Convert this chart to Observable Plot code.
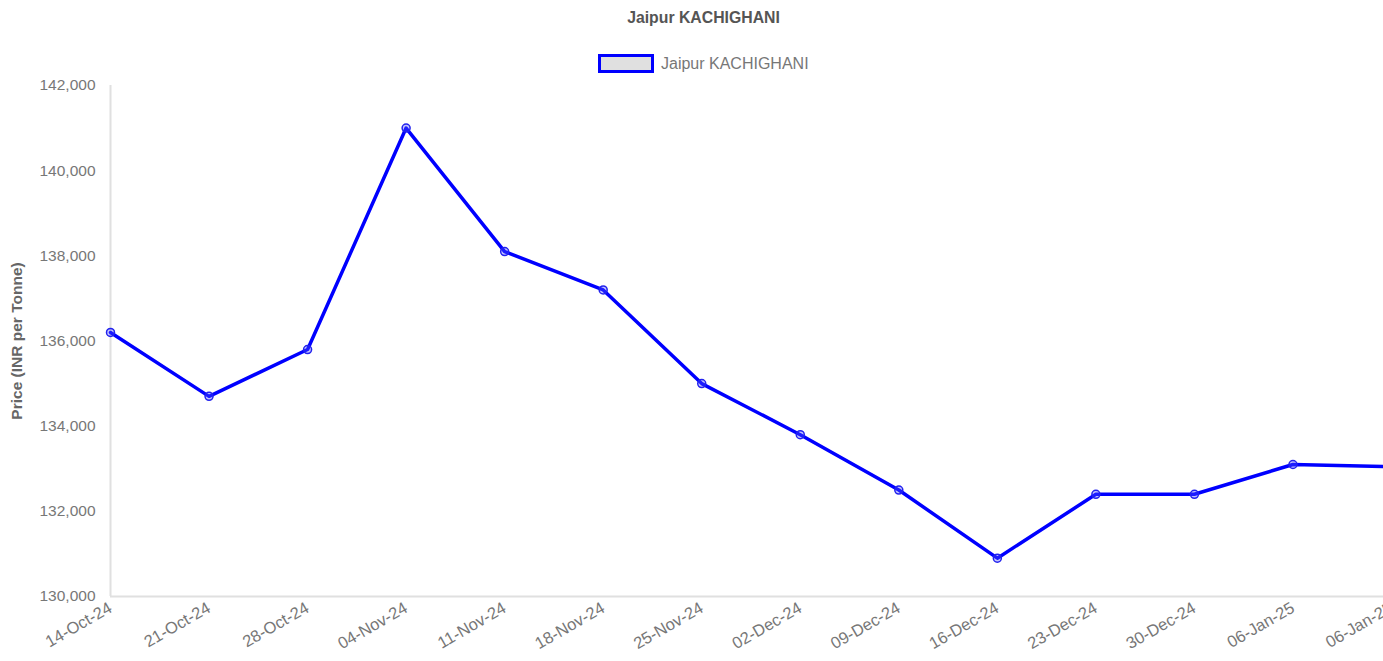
<!DOCTYPE html>
<html>
<head>
<meta charset="utf-8">
<script src="https://cdn.jsdelivr.net/npm/d3@7"></script>
<script src="https://cdn.jsdelivr.net/npm/@observablehq/plot@0.6"></script>
<style>
  html, body { margin: 0; padding: 0; background: #fff; overflow: hidden; width: 1383px; height: 661px; }
  body { font-family: "Liberation Sans", Arial, sans-serif; position: relative; }
  #title { position: absolute; left: 24px; width: 1359px; top: 9px; text-align: center; font-size: 15.8px; font-weight: bold; color: #555; }
  #legend { position: absolute; left: 598px; top: 54px; display: flex; align-items: center; font-size: 16px; color: #777; }
  #legend .sw { width: 50px; height: 13px; background: #e0e0e0; border: 3px solid #0000ff; margin-right: 7px; }
  #chart { position: absolute; left: 0; top: 75px; }
</style>
</head>
<body>
<div id="title">Jaipur KACHIGHANI</div>
<div id="legend"><div class="sw"></div><span>Jaipur KACHIGHANI</span></div>
<div id="chart"></div>
<script>
const seriesName = "Jaipur KACHIGHANI";
const dateLabels = ["14-Oct-24","21-Oct-24","28-Oct-24","04-Nov-24","11-Nov-24","18-Nov-24","25-Nov-24","02-Dec-24","09-Dec-24","16-Dec-24","23-Dec-24","30-Dec-24","06-Jan-25","06-Jan-25"];
const prices = [136200,134700,135800,141000,138100,137200,135000,133800,132500,130900,132400,132400,133100,133050];
const yTicks = [130000,132000,134000,136000,138000,140000,142000];

const data = prices.map((p, i) => ({i, label: dateLabels[i], price: p}));
const fmt = d3.format(",");

const chart = Plot.plot({
  width: 1383,
  height: 586,
  marginTop: 10,
  marginBottom: 65,
  marginLeft: 110,
  marginRight: 0,
  style: {fontFamily: "'Liberation Sans', Arial, sans-serif", fontSize: "15.5px", color: "#777", background: "transparent", overflow: "visible"},
  x: {type: "point", domain: d3.range(dateLabels.length), range: [110, 1391], padding: 0, round: false, label: null, tickFormat: i => dateLabels[i], tickRotate: -30, tickSize: 0, tickPadding: 10},
  y: {domain: [130000, 142000], ticks: yTicks, tickFormat: fmt, tickSize: 0, tickPadding: 15, label: "Price (INR per Tonne)", labelAnchor: "center", labelArrow: "none", labelOffset: 100},
  marks: [
    Plot.ruleY([130000], {stroke: "#e0e0e0", strokeWidth: 2}),
    Plot.ruleX([0], {stroke: "#e0e0e0", strokeWidth: 2}),
    Plot.line(data, {x: "i", y: "price", stroke: "#0000ff", strokeWidth: 3.5}),
    Plot.dot(data, {x: "i", y: "price", r: 4, stroke: "#2222ee", strokeWidth: 1.5, fill: "rgba(80,80,255,0.35)"})
  ]
});
chart.querySelectorAll("g[aria-label='y-axis label']").forEach(el => { el.style.fontWeight = "bold"; el.style.fill = "#666"; });
chart.querySelectorAll("g[aria-label='x-axis tick label']").forEach(el => { el.style.fontSize = "16.5px"; });
document.getElementById("chart").appendChild(chart);
</script>
</body>
</html>
